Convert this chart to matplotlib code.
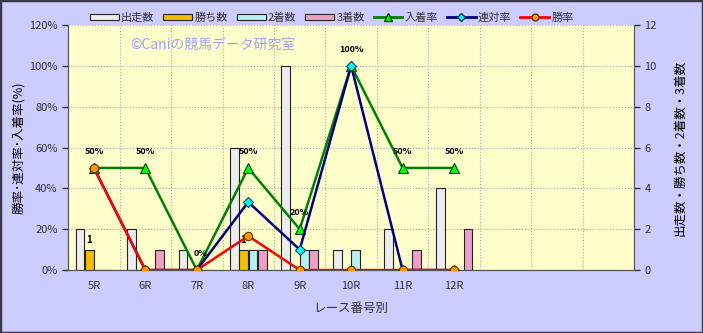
import numpy as np
import matplotlib
matplotlib.use('Agg')
import matplotlib.pyplot as plt
from matplotlib.patches import Rectangle
from matplotlib.lines import Line2D
from matplotlib.ticker import PercentFormatter

plt.rcParams['font.family'] = ['Noto Sans CJK JP', 'DejaVu Sans']

# data
races = ['5R', '6R', '7R', '8R', '9R', '10R', '11R', '12R', '', '', '']
starts = [2, 2, 1, 6, 10, 1, 2, 4]
wins = [1, 0, 0, 1, 0, 0, 0, 0]
seconds = [0, 0, 0, 1, 1, 1, 0, 0]
thirds = [0, 1, 0, 1, 1, 0, 1, 2]
place_rate = [50, 50, 0, 50, 20, 100, 50, 50]
quinella_rate = [50, 0, 0, 33.3, 10, 100, 0, 0]
win_rate = [50, 0, 0, 16.7, 0, 0, 0, 0]

fig = plt.figure(figsize=(7.03, 3.33), dpi=100)
fig.patch.set_facecolor('#CCCCFF')
fig.patches.append(Rectangle((0, 0), 1, 1, transform=fig.transFigure,
                             fill=False, edgecolor='#3a3a4a', lw=2.5))

ax = fig.add_axes([0.097, 0.189, 0.805, 0.736])
ax.set_facecolor('#FFFFCC')
ax2 = ax.twinx()

x = np.arange(len(starts))
w = 0.17
bar_cols = ['#EDEDED', '#F2BE00', '#B8F0F0', '#EE9FC8']
names = ['出走数', '勝ち数', '2着数', '3着数']
offs = [-0.27, -0.09, 0.09, 0.27]
for vals, c, o in zip([starts, wins, seconds, thirds], bar_cols, offs):
    ax.bar(x + o, vals, w, color=c, edgecolor='#222222', lw=0.8, zorder=2)

# label on the win-count bars
for i, v in enumerate(wins):
    if v:
        ax.text(x[i] - 0.09, v + 0.25, str(v), ha='center', va='bottom',
                fontsize=7, fontweight='bold')

ax.set_xlim(-0.5, len(races) - 0.5)
ax.set_ylim(0, 12)
ax.set_yticks(range(0, 13, 2))
ax.yaxis.tick_right()
ax.yaxis.set_label_position('right')
ax.set_ylabel('出走数・勝ち数・2着数・3着数', fontsize=9, labelpad=12)

ax2.plot(x, place_rate, color='#008000', lw=1.8, marker='^', ms=7,
         mfc='#00FF00', mec='#004000', mew=0.8, zorder=3)
ax2.plot(x, quinella_rate, color='#000080', lw=1.8, marker='D', ms=5,
         mfc='#00FFFF', mec='#004060', mew=0.8, zorder=4)
ax2.plot(x, win_rate, color='#FF0000', lw=1.8, marker='o', ms=6,
         mfc='#FF9900', mec='#663300', mew=0.8, zorder=5)
for i, v in enumerate(place_rate):
    ax2.text(x[i] + (0.08 if v == 0 else 0), v + 6, f'{v}%', ha='center',
             va='bottom', fontsize=6.5, fontweight='bold')

ax2.set_ylim(0, 120)
ax2.set_yticks(range(0, 121, 20))
ax2.yaxis.set_major_formatter(PercentFormatter(decimals=0))
ax2.yaxis.tick_left()
ax2.yaxis.set_label_position('left')
ax2.set_ylabel('勝率･連対率･入着率(%)', fontsize=9, labelpad=3)

ax.set_xticks(np.arange(len(races)))
ax.set_xticklabels(races)
ax.set_xticks(np.arange(len(races) + 1) - 0.5, minor=True)
ax.tick_params(axis='x', which='both', length=0, labelsize=8, colors='#333333', pad=8)
ax.tick_params(axis='y', labelsize=8, colors='#333333', length=4, width=1)
ax2.tick_params(axis='y', labelsize=8, colors='#333333', length=4, width=1)
ax.set_xlabel('レース番号別', fontsize=9, color='#333333', labelpad=8)

ax.grid(True, which='minor', axis='x', color='#AAAAAA', ls=':', lw=0.8)
ax.grid(True, which='major', axis='y', color='#AAAAAA', ls=':', lw=0.8)
ax.set_axisbelow(True)
for a in (ax, ax2):
    for s in a.spines.values():
        s.set_color('#555555')
    a.spines['top'].set_visible(False)

ax.text(0.11, 0.92, '©Caniの競馬データ研究室', transform=ax.transAxes,
        fontsize=10, color='#A0A0FF', va='center')

handles = [Rectangle((0, 0), 1, 1, fc=c, ec='#222222', lw=0.8) for c in bar_cols]
handles += [
    Line2D([], [], color='#008000', lw=2, marker='^', ms=6, mfc='#00FF00', mec='#004000'),
    Line2D([], [], color='#000080', lw=2, marker='D', ms=4, mfc='#00FFFF', mec='#004060'),
    Line2D([], [], color='#FF0000', lw=2, marker='o', ms=5, mfc='#FF9900', mec='#663300'),
]
labels = names + ['入着率', '連対率', '勝率']
fig.legend(handles, labels, loc='center', bbox_to_anchor=(0.472, 0.947), ncol=7,
           frameon=False, fontsize=8, handlelength=2.6, handleheight=0.45,
           handletextpad=0.2, columnspacing=0.8, labelcolor='#333333')

fig.savefig('out.png', dpi=100, facecolor=fig.get_facecolor())
